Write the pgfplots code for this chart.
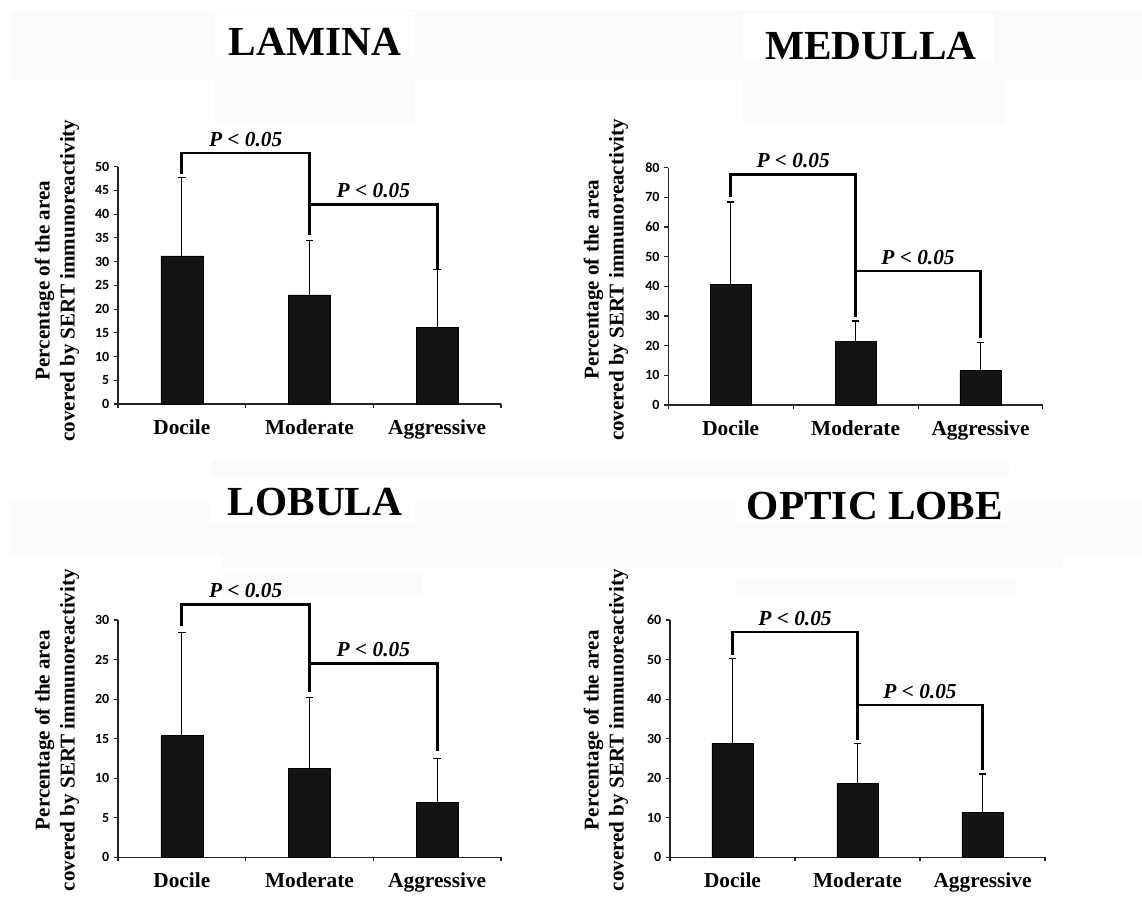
\documentclass[border=0pt]{standalone}
\usepackage{fontspec}
\setmainfont{Liberation Serif}
\newfontfamily\carlito{Carlito}
\usepackage{pgfplots}
\pgfplotsset{compat=1.18}
\usepackage{pgfplotstable}

\pgfplotstableread{
x y e
1 31.2 16.5
2 23.0 11.5
3 16.2 12.1
}\lamina
\pgfplotstableread{
x y e
1 40.6 27.8
2 21.5 6.8
3 11.7 9.4
}\medulla
\pgfplotstableread{
x y e
1 15.4 13.0
2 11.2 9.0
3 6.9 5.6
}\lobula
\pgfplotstableread{
x y e
1 28.9 21.4
2 18.7 10.1
3 11.4 9.7
}\optic

\pgfplotsset{
 panel/.style={
  scale only axis, height=178pt,
  xmin=0.5, xmax=3.5, ymin=0,
  axis x line*=bottom, axis y line*=left,
  axis line style={black!85, line width=0.8pt, -},
  tick align=outside,
  major tick length=3pt,
  tick style={black!85, line width=0.8pt},
  xtick={0.5,1.5,2.5,3.5}, xticklabels={},
  extra x ticks={1,2,3},
  extra x tick labels={Docile,Moderate,Aggressive},
  extra x tick style={major tick length=0pt},
  /pgf/number format/assume math mode=true,
  xticklabel style={font=\bfseries\fontsize{16}{16}\selectfont, yshift=-8pt},
  yticklabel style={font=\carlito\bfseries\fontsize{10.5}{11}\selectfont},
  ylabel={Percentage of the area\\covered by SERT immunoreactivity},
  ylabel style={align=center, font=\bfseries\fontsize{15.8}{18.75}\selectfont, anchor=center},
  clip=false,
  anchor=south west,
 },
 bars/.style={ybar, bar width=0.33, fill=black!92, draw=black,
   error bars/.cd, y dir=plus, y explicit,
   error bar style={line width=0.6pt, black},
   error mark=|,
   error mark options={line width=1pt, mark size=2.8pt, black}},
 bracket/.style={black, line width=2pt, line join=miter, no marks, forget plot},
}
\tikzset{plab/.style={anchor=base, yshift=5pt, font=\bfseries\itshape\fontsize{16}{16}\selectfont}}

\begin{document}
\begin{tikzpicture}
\useasboundingbox (0,0) rectangle (856.5pt,675pt);
\begin{scope}[x=0.75pt,y=-0.75pt,shift={(0,675pt)}]
 \fill[gray!3] (11,10) rectangle (1142,80);
 \fill[gray!3] (215,57) rectangle (415,123);
 \fill[gray!3] (743,62) rectangle (1005,125);
 \fill[white] (215,12) rectangle (415,57);
 \fill[white] (743,15) rectangle (994,62);
 \fill[gray!3] (211,460) rectangle (1009,478);
 \fill[gray!3] (11,502) rectangle (1142,555);
 \fill[gray!3] (222,555) rectangle (1063,568);
 \fill[gray!3] (222,572) rectangle (422,595);
 \fill[gray!3] (736,578) rectangle (1016,597);
 \fill[white] (211,478) rectangle (415,522);
 \fill[white] (736,478) rectangle (1005,522);
 \node[anchor=base, font=\bfseries\fontsize{31}{31}\selectfont] at (315,56) {LAMINA};
 \node[anchor=base, font=\bfseries\fontsize{31}{31}\selectfont] at (871,60) {MEDULLA};
 \node[anchor=base, font=\bfseries\fontsize{31}{31}\selectfont] at (315,516) {LOBULA};
 \node[anchor=base, font=\bfseries\fontsize{31}{31}\selectfont] at (875,520) {OPTIC LOBE};
\end{scope}

% LAMINA
\begin{axis}[panel, at={(88.5pt,372pt)}, width=287.25pt, ymax=50, ytick={0,5,...,50},
  ylabel style={at={(axis description cs:-0.159,0.52)}}]
\addplot[bars] table[x=x,y=y,y error=e] {\lamina};
\addplot[bracket] coordinates {(1,48.4) (1,52.9) (2,52.9) (2,42.1)};
\addplot[bracket] coordinates {(2,35.6) (2,42.1) (3,42.1) (3,28.3)};
\node[plab] at (axis cs:1.5,52.9) {P < 0.05};
\node[plab] at (axis cs:2.5,42.1) {P < 0.05};
\end{axis}

% MEDULLA
\begin{axis}[panel, at={(501.2pt,371.25pt)}, width=281pt, ymax=80, ytick={0,10,...,80},
  ylabel style={at={(axis description cs:-0.166,0.527)}}]
\addplot[bars] table[x=x,y=y,y error=e] {\medulla};
\addplot[bracket] coordinates {(1,70.2) (1,77.8) (2,77.8) (2,45.2)};
\addplot[bracket] coordinates {(2,29.6) (2,45.2) (3,45.2) (3,22.5)};
\node[plab] at (axis cs:1.5,77.8) {P < 0.05};
\node[plab] at (axis cs:2.5,45.2) {P < 0.05};
\end{axis}

% LOBULA
\begin{axis}[panel, at={(88.5pt,32pt)}, width=287.25pt, ymax=30, ytick={0,5,...,30},
  ylabel style={at={(axis description cs:-0.159,0.536)}}]
\addplot[bars] table[x=x,y=y,y error=e] {\lobula};
\addplot[bracket] coordinates {(1,29.2) (1,32.0) (2,32.0) (2,24.5)};
\addplot[bracket] coordinates {(2,20.9) (2,24.5) (3,24.5) (3,13.4)};
\node[plab] at (axis cs:1.5,32.0) {P < 0.05};
\node[plab] at (axis cs:2.5,24.5) {P < 0.05};
\end{axis}

% OPTIC LOBE
\begin{axis}[panel, at={(502.5pt,32pt)}, width=281.25pt, ymax=60, ytick={0,10,...,60},
  ylabel style={at={(axis description cs:-0.171,0.536)}}]
\addplot[bars] table[x=x,y=y,y error=e] {\optic};
\addplot[bracket] coordinates {(1,51.1) (1,57.0) (2,57.0) (2,38.5)};
\addplot[bracket] coordinates {(2,29.7) (2,38.5) (3,38.5) (3,22.1)};
\node[plab] at (axis cs:1.5,57.0) {P < 0.05};
\node[plab] at (axis cs:2.5,38.5) {P < 0.05};
\end{axis}
\end{tikzpicture}
\end{document}
